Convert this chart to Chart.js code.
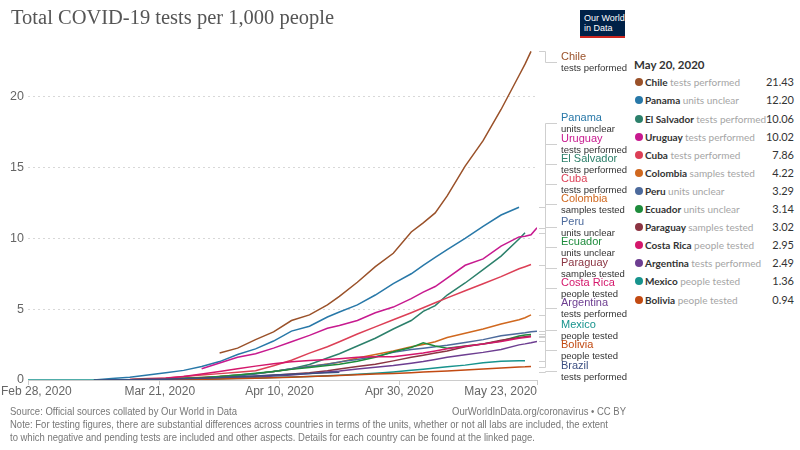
<!DOCTYPE html>
<html><head><meta charset="utf-8">
<script src="https://cdn.jsdelivr.net/npm/chart.js@4/dist/chart.umd.min.js"></script>
<style>
html,body{margin:0;padding:0;background:#fff;}
#wrap{position:relative;width:800px;height:450px;overflow:hidden;font-family:"Liberation Sans",Arial,sans-serif;}
#cv{position:absolute;left:0;top:0;width:800px;height:450px;}
.title{position:absolute;left:11px;top:6px;font-family:"Liberation Serif",serif;font-size:20.5px;color:#555;white-space:nowrap;}
.logo{position:absolute;left:580px;top:10px;width:45px;height:28px;background:#002147;border-bottom:2px solid #ce261e;box-sizing:border-box;color:#fff;font-size:9px;line-height:10px;padding:3px 0 0 4px;white-space:nowrap;}
.tip{position:absolute;left:627px;top:52px;width:173px;height:256px;background:#fff;font-family:Lato,sans-serif;}
.tip .hd{position:absolute;left:7px;top:6px;font-size:11.5px;font-weight:700;color:#333;}
.row{position:absolute;left:0;width:173px;height:16px;font-size:10px;line-height:16px;white-space:nowrap;}
.row .dot{position:absolute;left:8px;top:4px;width:8px;height:8px;border-radius:50%;}
.row .nm{position:absolute;left:18px;color:#333;font-weight:700;}
.row .nm span{color:#a5a5a5;font-weight:400;}
.row .vl{position:absolute;right:6px;color:#333;font-size:11px;}
.foot{position:absolute;font-size:11px;color:#777;white-space:nowrap;transform-origin:0 0;}
</style></head>
<body><div id="wrap">
<canvas id="cv" width="800" height="450"></canvas>
<div class="title">Total COVID-19 tests per 1,000 people</div>
<div class="logo">Our World<br>in Data</div>
<div class="tip" id="tip"><div class="hd">May 20, 2020</div></div>
<div class="foot" id="f1" style="left:10px;top:405px" data-w="227">Source: Official sources collated by Our World in Data</div>
<div class="foot" id="f2" style="left:452px;top:405px" data-w="174">OurWorldInData.org/coronavirus • CC BY</div>
<div class="foot" id="f3" style="left:10px;top:418px" data-w="598">Note: For testing figures, there are substantial differences across countries in terms of the units, whether or not all labs are included, the extent</div>
<div class="foot" id="f4" style="left:10px;top:431px" data-w="525">to which negative and pending tests are included and other aspects. Details for each country can be found at the linked page.</div>
</div>
<script>
// x values: days since Feb 28, 2020
const days = [0, 8, 11, 14, 17, 20, 23, 26, 29, 32, 35, 38, 41, 44, 47, 50, 52, 55, 58, 61, 64, 66, 68, 70, 73, 76, 79, 82, 83, 84, 85];
const tickDays = [0, 22, 42, 62, 85];
const tickLabels = ["Feb 28, 2020", "Mar 21, 2020", "Apr 10, 2020", "Apr 30, 2020", "May 23, 2020"];
const yTicks = [0, 5, 10, 15, 20];

const countries = ["Chile","Panama","El Salvador","Uruguay","Cuba","Colombia","Peru","Ecuador","Paraguay","Costa Rica","Argentina","Mexico","Bolivia","Brazil"];
const units = ["tests performed","units unclear","tests performed","tests performed","tests performed","samples tested","units unclear","units unclear","samples tested","people tested","tests performed","people tested","people tested","tests performed"];
const colors = ["#9a5129","#2878a8","#2c806b","#c71a8f","#dc3f56","#d0681f","#4c6a9c","#1e8c3c","#8b3442","#d4176b","#6d3e91","#17938d","#c24a12","#3c4f82"];

const N = null;
const chile      = [N,N,N,N,N,N,N,N,N,1.9,2.25,2.85,3.4,4.2,4.6,5.3,5.9,6.9,8.0,8.95,10.45,11.1,11.8,13.0,15.1,16.9,19.1,21.5,22.3,23.2,N];
const panama     = [N,N,0,0.1,0.2,0.35,0.52,0.68,0.95,1.3,1.8,2.2,2.75,3.45,3.8,4.45,4.8,5.3,6.0,6.8,7.5,8.1,8.65,9.2,10.0,10.85,11.65,12.2,N,N,N];
const elSalvador = [N,N,N,N,N,0.02,0.05,0.1,0.15,0.25,0.35,0.45,0.6,0.8,1.1,1.55,1.85,2.4,2.95,3.6,4.2,4.85,5.25,6.0,6.85,7.8,8.75,9.95,10.4,N,N];
const uruguay    = [N,N,N,N,N,N,N,N,0.8,1.2,1.6,1.85,2.25,2.7,3.15,3.65,3.85,4.2,4.75,5.15,5.75,6.2,6.6,7.2,8.1,8.55,9.45,10.1,10.15,10.25,10.75];
const cuba       = [N,N,N,N,0.05,0.1,0.15,0.25,0.35,0.45,0.55,0.65,1.0,1.4,1.9,2.35,2.7,3.25,3.75,4.25,4.75,5.1,5.45,5.8,6.3,6.8,7.3,7.85,8.0,8.15,N];
const colombia   = [N,N,N,0,0.01,0.03,0.07,0.12,0.18,0.25,0.33,0.45,0.6,0.78,0.95,1.13,1.25,1.55,1.8,2.05,2.35,2.5,2.7,3.0,3.3,3.6,3.95,4.25,4.4,4.6,N];
const peru       = [N,N,0,0.01,0.02,0.04,0.06,0.1,0.14,0.2,0.28,0.42,0.6,0.8,0.95,1.12,1.28,1.45,1.65,1.95,2.15,2.25,2.35,2.45,2.65,2.85,3.12,3.28,3.33,3.4,3.45];
const ecuador    = [N,N,N,0,0.02,0.05,0.08,0.12,0.18,0.25,0.35,0.47,0.6,0.75,0.88,1.02,1.12,1.33,1.6,2.0,2.3,2.62,2.4,2.25,2.4,2.55,2.75,3.1,3.18,3.22,N];
const paraguay   = [N,N,N,0,0.01,0.03,0.05,0.08,0.12,0.16,0.2,0.26,0.33,0.42,0.52,0.66,0.78,0.95,1.12,1.35,1.6,1.75,1.9,2.05,2.35,2.55,2.8,3.0,3.05,3.1,N];
const costaRica  = [N,N,N,N,0.02,0.05,0.12,0.25,0.42,0.6,0.8,0.98,1.15,1.28,1.38,1.45,1.5,1.6,1.65,1.65,1.8,1.9,2.05,2.2,2.38,2.55,2.72,2.95,3.0,3.05,N];
const argentina  = [N,N,N,0,0.01,0.02,0.03,0.05,0.07,0.1,0.15,0.2,0.28,0.36,0.45,0.56,0.63,0.78,0.9,1.02,1.18,1.3,1.45,1.6,1.78,1.95,2.15,2.48,2.55,2.63,2.72];
const mexico     = [0,0,0,0,0.01,0.02,0.03,0.04,0.06,0.08,0.1,0.13,0.17,0.21,0.25,0.3,0.33,0.4,0.48,0.57,0.68,0.76,0.85,0.93,1.05,1.22,1.33,1.36,1.36,N,N];
const bolivia    = [N,N,N,0,0.01,0.02,0.03,0.04,0.05,0.07,0.1,0.13,0.16,0.2,0.24,0.29,0.32,0.37,0.42,0.46,0.52,0.56,0.6,0.64,0.71,0.78,0.85,0.92,0.93,0.95,N];
const brazil     = [N,N,0,0.01,0.02,0.04,0.06,0.09,0.13,0.18,0.23,0.29,0.35,0.41,0.46,0.51,0.55,N,N,N,N,N,N,N,N,N,N,N,N,N,N];
const seriesValues = [chile,panama,elSalvador,uruguay,cuba,colombia,peru,ecuador,paraguay,costaRica,argentina,mexico,bolivia,brazil];

// tooltip box (May 20, 2020)
const legendCountries = ["Chile","Panama","El Salvador","Uruguay","Cuba","Colombia","Peru","Ecuador","Paraguay","Costa Rica","Argentina","Mexico","Bolivia"];
const legendValues = [21.43,12.20,10.06,10.02,7.86,4.22,3.29,3.14,3.02,2.95,2.49,1.36,0.94];

// right-hand label order
const labelOrder = ["Chile","Panama","Uruguay","El Salvador","Cuba","Colombia","Peru","Ecuador","Paraguay","Costa Rica","Argentina","Mexico","Bolivia","Brazil"];
const labelCenters = [62,123,144,164,184,204,227,247,268,288,308,330,350,371];

// build tooltip rows
const tip = document.getElementById('tip');
legendCountries.forEach((c,i)=>{
  const k = countries.indexOf(c);
  const r = document.createElement('div');
  r.className='row';
  r.style.top = (82.3 + 18.1*i - 52 - 8) + 'px';
  r.innerHTML = '<div class="dot" style="background:'+colors[k]+'"></div><div class="nm">'+c+' <span>'+units[k]+'</span></div><div class="vl">'+legendValues[i].toFixed(2)+'</div>';
  tip.appendChild(r);
});

const labelPlugin = {
  id:'endLabels',
  afterDatasetsDraw(chart){
    const ctx = chart.ctx, ys = chart.scales.y, xs = chart.scales.x, area = chart.chartArea;
    ctx.save();
    labelOrder.forEach((name,i)=>{
      const k = countries.indexOf(name);
      const vals = seriesValues[k];
      let last = vals.length-1; while(last>=0 && vals[last]===null) last--;
      const yEnd = ys.getPixelForValue(vals[last]);
      const cy = labelCenters[i];
      const xv = 545;
      ctx.strokeStyle = '#cfcfcf'; ctx.lineWidth = 1;
      ctx.beginPath();
      ctx.moveTo(area.right+2, Math.round(yEnd)+0.5);
      ctx.lineTo(xv+0.5, Math.round(yEnd)+0.5);
      ctx.lineTo(xv+0.5, cy+0.5);
      ctx.lineTo(557, cy+0.5);
      ctx.stroke();
      ctx.textBaseline = 'middle'; ctx.textAlign='left';
      ctx.fillStyle = colors[k];
      ctx.font = '11px "Liberation Sans", Arial, sans-serif';
      ctx.fillText(name, 561, cy-5);
      ctx.fillStyle = '#333';
      ctx.font = '9.5px "Liberation Sans", Arial, sans-serif';
      ctx.fillText(units[k], 561, cy+6);
    });
    // x-axis labels, kept inside the canvas
    ctx.fillStyle = '#666';
    ctx.font = '12px "Liberation Sans", Arial, sans-serif';
    ctx.textBaseline = 'middle';
    tickDays.forEach((d,i)=>{
      const x = xs.getPixelForValue(d);
      const w = ctx.measureText(tickLabels[i]).width;
      let left = x - w/2;
      if (left < 1) left = 1;
      if (left + w > area.right) left = area.right - w;
      ctx.textAlign = 'left';
      ctx.fillText(tickLabels[i], left, 392);
    });
    ctx.restore();
  }
};

const datasets = countries.map((c,k)=>({
  label: c,
  data: days.map((d,i)=>({x:d, y:seriesValues[k][i]})),
  borderColor: colors[k],
  backgroundColor: colors[k],
  borderWidth: 1.5,
  pointRadius: 0,
  tension: 0,
  spanGaps: false
})).reverse();

new Chart(document.getElementById('cv'), {
  type:'line',
  data:{datasets},
  plugins:[labelPlugin],
  options:{
    responsive:false,
    animation:false,
    layout:{padding:{left:0,right:263,top:50,bottom:0}},
    plugins:{legend:{display:false},tooltip:{enabled:false},title:{display:false}},
    scales:{
      x:{
        type:'linear', min:0, max:85,
        afterBuildTicks(s){ s.ticks = tickDays.map(v=>({value:v})); },
        afterFit(s){ s.height = 70; },
        ticks:{display:false},
        grid:{drawOnChartArea:false, drawTicks:true, tickLength:5, color:'#ccc'},
        border:{display:true, color:'#ccc'}
      },
      y:{
        min:0, max:23.3,
        afterBuildTicks(s){ s.ticks = yTicks.map(v=>({value:v})); },
        afterFit(s){ s.width = 28; },
        ticks:{padding:4, color:'#666', font:{family:'"Liberation Sans", Arial, sans-serif', size:12.5},
          callback:(v)=>String(v)},
        grid:{drawTicks:false, color:(c)=> c.tick && c.tick.value===0 ? 'rgba(0,0,0,0)' : '#d8d8d8'},
        border:{display:false, dash:[2,3]}
      }
    }
  }
});

// fit footer text widths
document.querySelectorAll('.foot').forEach(el=>{
  const w = el.getBoundingClientRect().width;
  const t = parseFloat(el.dataset.w);
  el.style.transform = 'scaleX('+(t/w)+')';
});
</script>
</body></html>
